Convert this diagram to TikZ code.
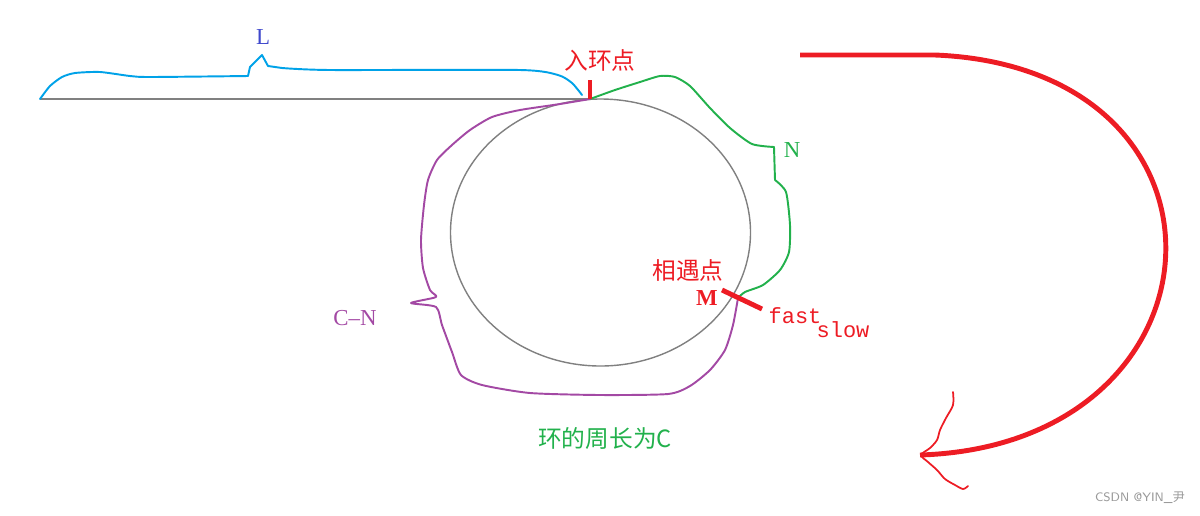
\documentclass[tikz,border=0pt]{standalone}
\usepackage{fontspec}
\usepackage{xcolor}
\usetikzlibrary{positioning}
\setmainfont{Liberation Serif}
\setmonofont{Liberation Mono}
\newfontfamily\cjk{Noto Sans CJK SC}
\definecolor{paintred}{RGB}{237,28,36}
\definecolor{paintgreen}{RGB}{34,177,76}
\definecolor{paintblue}{RGB}{0,162,232}
\definecolor{paintpurple}{RGB}{163,73,164}
\definecolor{paintindigo}{RGB}{63,72,204}
\definecolor{ringgray}{RGB}{128,128,128}

\begin{document}
\begin{tikzpicture}[
  x=0.02cm, y=-0.02cm,
  lbl/.style={inner sep=0pt, font=\fontsize{13}{15}\selectfont},
  cjklbl/.style={inner sep=0pt, font=\fontsize{13.5}{16}\selectfont\cjk},
  pathline/.style={line width=1.1pt, line join=round, line cap=round},
  redmark/.style={paintred, line width=2.8pt}
]
\useasboundingbox (0,0) rectangle (1200,515);

% list and ring
\coordinate (head) at (40,99);
\coordinate (entry) at (590,99);
\coordinate (meet) at (738,298);
\draw[ringgray, line width=0.9pt] (head) -- (entry);
\draw[ringgray, line width=0.8pt] (600.5,232.5) ellipse (150 and 133.5);

% hand drawn lengths
\draw[pathline, paintblue] plot[smooth, tension=0.4] coordinates {
  (40,99) (50,86) (62,77) (75,73) (100,72) (130,76) (150,77) (248,76)}
  -- (250,67) -- (262,55) -- (268,66) -- (282,68)
  plot[smooth, tension=0.4] coordinates {
  (282,68) (330,70) (520,70) (558,75) (572,83) (582,95)};
\draw[pathline, paintgreen] plot[smooth, tension=0.4] coordinates {
  (590,99) (615,90) (640,82) (660,76) (675,77) (690,86) (710,108)
  (730,128) (752,144) (774,147)}
  -- (775,180)
  plot[smooth, tension=0.4] coordinates {
  (775,180) (786,192) (790,225) (789,252) (780,270) (763,285) (745,292) (738,298)};
\draw[pathline, paintpurple] plot[smooth, tension=0.4] coordinates {
  (590,99) (560,104) (520,110) (492,117) (470,130) (452,145) (437,160)
  (428,180) (424,205) (421,240) (423,268) (430,290) (436,297) (411,303)
  (436,307) (442,325) (452,352) (461,375) (482,385) (530,393) (600,395)
  (668,394) (690,386) (710,370) (725,350) (733,325) (738,298)};

% marks
\draw[redmark] (entry) -- (590,80);
\coordinate (fastend) at (722,290);
\coordinate (slowend) at (762,309);
\draw[redmark] (fastend) -- (slowend);

% labels
\node[lbl, text=paintindigo] (lenL) at (263,37) {L};
\node[cjklbl, text=paintred] (entrylbl) at (600,60) {入环点};
\node[lbl, text=paintgreen] (lenN) at (792,150) {N};
\node[lbl, text=paintpurple] (lenCN) at (355,318) {C--N};
\node[cjklbl, text=paintred] (meetlbl) at (688,270) {相遇点};
\node[lbl, text=paintred, font=\fontsize{13}{15}\selectfont\bfseries] (meetM) at (707,298) {M};
\node[lbl, text=paintred, font=\fontsize{12.5}{15}\ttfamily] (fast) at (795,316) {fast};
\node[lbl, text=paintred, font=\fontsize{12.5}{15}\ttfamily] (slow) at (843,330) {slow};
\node[cjklbl, text=paintgreen] (perim) at (605,438) {环的周长为C};
\node[inner sep=0pt, text=black!40, font=\fontsize{7}{8}\sffamily] (wmark) at (1140,498) {CSDN @YIN\_{\cjk 尹}};

% big return arrow
\coordinate (arcstart) at (800,55);
\coordinate (arcend) at (920,455);
\draw[paintred, line width=2.8pt, line join=round] (arcstart) -- (935,55)
  .. controls (1255,68) and (1235,445) .. (arcend);
\draw[paintred, line width=1pt, line join=round, line cap=round]
  plot[smooth, tension=0.5] coordinates {
  (953,392) (953,405) (946,418) (940,430) (937,440) (930,448) (921,455)
  (928,462) (937,470) (945,479) (955,485) (963,489) (968,486)};
\end{tikzpicture}
\end{document}
